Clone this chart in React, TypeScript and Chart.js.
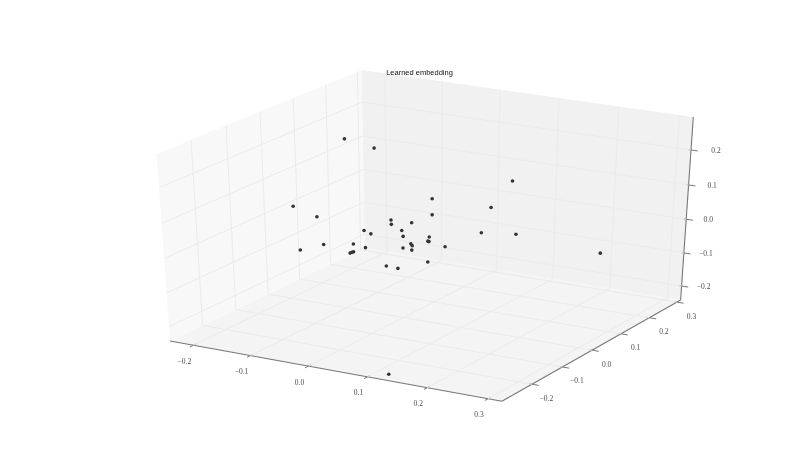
import React, { useEffect, useRef } from "react";
import { Chart, registerables } from "chart.js";
Chart.register(...registerables);

const xValues = [-0.154,-0.136,-0.143,-0.114,-0.053,-0.036,-0.028,-0.078,-0.044,-0.029,-0.005,-0.098,-0.069,-0.008,0.016,-0.037,0.011,-0.001,-0.110,-0.014,0.002,0.013,0.032,0.050,0.035,-0.052,-0.038,-0.030,0.064,0.026,0.062,0.112,0.092,0.107,0.150,0.305,0.116];
const yValues = [0.10,0.16,-0.08,-0.06,0.06,0.03,0.08,0.02,-0.02,0.05,0.01,-0.07,-0.03,0.04,0,-0.05,-0.02,0.03,-0.12,0.12,0.09,0.06,0.02,-0.01,0.07,-0.06,-0.09,-0.11,-0.04,-0.10,-0.13,0.14,0.11,0.05,0.08,0.05,-0.26];
const zValues = [0.198,0.152,0.082,0.051,0.006,0.011,-0.004,-0.014,0.003,-0.014,-0.007,-0.021,-0.029,-0.043,-0.024,-0.022,-0.023,-0.055,-0.018,0.053,0.023,-0.026,-0.015,0.002,-0.053,-0.034,-0.018,-0.009,-0.040,-0.035,-0.018,0.129,0.060,0.017,0.011,0.013,-0.249];
const xTicks = [-0.2,-0.1,0,0.1,0.2,0.3];
const yTicks = [-0.2,-0.1,0,0.1,0.2,0.3];
const zTicks = [-0.2,-0.1,0,0.1,0.2];
const xLim = [-0.2413,0.3225];
const yLim = [-0.2963,0.3134];
const zLim = [-0.243,0.2927];
const titleText = "Learned embedding";

const W = 800, H = 472, CX = 429.3, CY = 230, SX = 3830, SY = 2135;
const pt = (x:number,y:number,z:number) => {
  const X=(x-xLim[0])/(xLim[1]-xLim[0])-.5, Y=(y-yLim[0])/(yLim[1]-yLim[0])-.5, Z=(z-zLim[0])/(zLim[1]-zLim[0])-.5;
  const w=10-(.433*X-.75*Y+.5*Z);
  return {x:(.866*X+.5*Y)/w, y:(-.25*X+.433*Y+.866*Z)/w};
};
const xr=xLim[1]-xLim[0], yr=yLim[1]-yLim[0];
const fmt=(v:number)=>(v<0?"\u2212":"")+Math.abs(v).toFixed(1);
const path=(data:any[],color:string,width:number)=>({type:"line",data,borderColor:color,borderWidth:width,pointRadius:0,tension:0,fill:false,order:2,clip:false});
const pane=(data:any[],color:string)=>({type:"line",data,borderWidth:0,borderColor:"transparent",backgroundColor:color,pointRadius:0,tension:0,fill:"shape",order:5,clip:false});

const [x0,x1]=xLim,[y0,y1]=yLim,[z0,z1]=zLim;
const GRID="#ebebeb", EDGE="#777777", TICK="#555555", LABEL="#4d4d4d";

const labels:{text:string,p:{x:number,y:number},dx:number,dy:number}[]=[
  ...xTicks.map(v=>({text:fmt(v),p:pt(v,y0,z0),dx:-9,dy:16.5})),
  ...yTicks.map(v=>({text:fmt(v),p:pt(x1,v,z0),dx:14.5,dy:14.5})),
  ...zTicks.map(v=>({text:fmt(v),p:pt(x1,y1,v),dx:22+Math.max(0,v)*15,dy:1})),
];
const textPlugin={id:"texts",afterDatasetsDraw(c:any){
  const g=c.ctx,sx=c.scales.x,sy=c.scales.y;
  g.save();g.textAlign="center";g.textBaseline="middle";
  g.font="7.5px 'Liberation Serif'";g.fillStyle=LABEL;
  for(const l of labels)g.fillText(l.text,sx.getPixelForValue(l.p.x)+l.dx,sy.getPixelForValue(l.p.y)+l.dy);
  g.font="7.5px 'Liberation Sans'";g.fillStyle="#111111";
  g.fillText(titleText,419.5,72.5);
  g.restore();
}};

export default function App(){
  const ref=useRef<HTMLCanvasElement>(null);
  useEffect(()=>{
    const datasets:any[]=[
      pane([pt(x0,y0,z0),pt(x0,y1,z0),pt(x0,y1,z1),pt(x0,y0,z1)],"#f8f8f8"),
      pane([pt(x0,y1,z0),pt(x1,y1,z0),pt(x1,y1,z1),pt(x0,y1,z1)],"#f1f1f1"),
      pane([pt(x0,y0,z0),pt(x1,y0,z0),pt(x1,y1,z0),pt(x0,y1,z0)],"#f4f4f4"),
      ...xTicks.map(v=>path([pt(v,y0,z0),pt(v,y1,z0),pt(v,y1,z1)],GRID,1)),
      ...yTicks.map(v=>path([pt(x1,v,z0),pt(x0,v,z0),pt(x0,v,z1)],GRID,1)),
      ...zTicks.map(v=>path([pt(x0,y0,v),pt(x0,y1,v),pt(x1,y1,v)],GRID,1)),
      path([pt(x0,y0,z0),pt(x1,y0,z0)],EDGE,1.1),
      path([pt(x1,y0,z0),pt(x1,y1,z0)],EDGE,1.1),
      path([pt(x1,y1,z0),pt(x1,y1,z1)],EDGE,1.1),
      ...xTicks.map(v=>path([pt(v,y0-.017*yr,z0),pt(v,y0+.012*yr,z0)],TICK,.8)),
      ...yTicks.map(v=>path([pt(x1+.02*xr,v,z0),pt(x1-.008*xr,v,z0)],TICK,.8)),
      ...zTicks.map(v=>path([pt(x1+.02*xr,y1,v),pt(x1-.008*xr,y1,v)],TICK,.8)),
      {type:"scatter",label:"embedding",data:xValues.map((x,i)=>pt(x,yValues[i],zValues[i])),backgroundColor:"#333333",borderColor:"#333333",borderWidth:0,pointRadius:1.8,order:1,clip:false},
    ];
    const chart=new Chart(ref.current!,{
      type:"scatter",
      data:{datasets},
      options:{
        responsive:false,animation:false,
        layout:{padding:0,autoPadding:false},
        plugins:{legend:{display:false},tooltip:{enabled:false},title:{display:false}},
        scales:{
          x:{type:"linear",display:false,min:(0-CX)/SX,max:(W-CX)/SX},
          y:{type:"linear",display:false,min:(CY-H)/SY,max:CY/SY},
        },
      },
      plugins:[textPlugin],
    } as any);
    return ()=>chart.destroy();
  },[]);
  return <div style={{position:"absolute",left:0,top:0,width:W,height:H,background:"#fff"}}>
    <canvas ref={ref} width={W} height={H} style={{display:"block",filter:"blur(0.4px)"}}/>
  </div>;
}
